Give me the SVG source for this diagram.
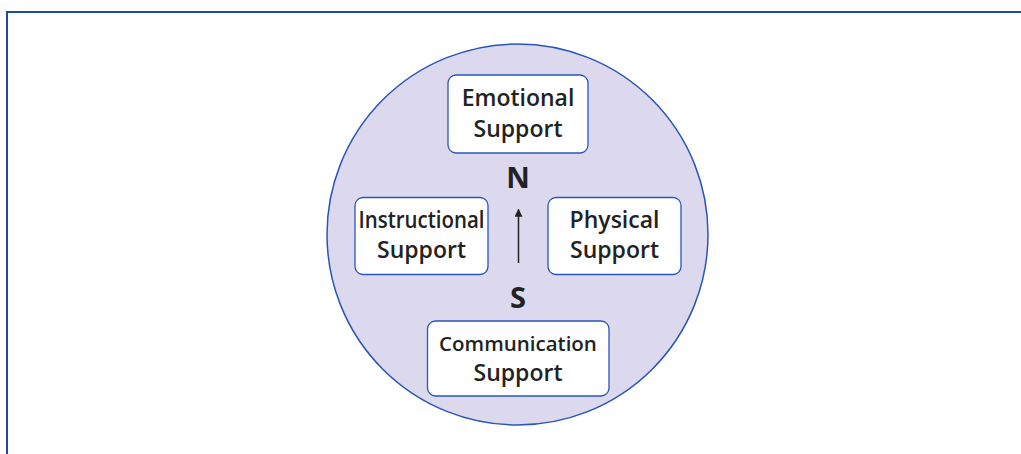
<svg xmlns="http://www.w3.org/2000/svg" width="1021" height="454" viewBox="0 0 1021 454">
<style>
.frame{fill:none;stroke:#1c4aac;stroke-width:2}
.box{fill:#ffffff;stroke:#2a55b8;stroke-width:1.3}
.lbl{font-family:"Open Sans","DejaVu Sans",sans-serif;font-weight:600;font-size:23px;fill:#222222;text-anchor:middle}
.dir{font-family:"Open Sans","DejaVu Sans",sans-serif;font-weight:700;font-size:29px;fill:#222222;text-anchor:middle}
</style>
<defs>
<marker id="ah" viewBox="0 0 10 10" refX="9" refY="5" markerWidth="8" markerHeight="8" markerUnits="userSpaceOnUse" orient="auto">
<path d="M0,0 L10,5 L0,10 z" fill="#222222"/>
</marker>
</defs>
<rect width="1021" height="454" fill="#ffffff"/>
<path class="frame" d="M7,454 L7,12 L1021,12"/>
<circle cx="517.5" cy="234.5" r="190.5" fill="#dcd8ee" stroke="#2a55b8" stroke-width="1.5"/>
<g id="emotional">
<rect class="box" x="448" y="75" width="140" height="78" rx="8"/>
<text class="lbl" x="518" y="106">Emotional</text>
<text class="lbl" x="518" y="137">Support</text>
</g>
<g id="instructional">
<rect class="box" x="355" y="197.5" width="133" height="77" rx="8"/>
<text class="lbl" x="421.5" y="228" textLength="126" lengthAdjust="spacingAndGlyphs">Instructional</text>
<text class="lbl" x="421.5" y="258">Support</text>
</g>
<g id="physical">
<rect class="box" x="548" y="197.5" width="133" height="77" rx="8"/>
<text class="lbl" x="614.5" y="228">Physical</text>
<text class="lbl" x="614.5" y="258">Support</text>
</g>
<g id="communication">
<rect class="box" x="427.5" y="321" width="181.5" height="75" rx="8"/>
<text class="lbl" x="518" y="351" style="font-size:20.5px">Communication</text>
<text class="lbl" x="518" y="381">Support</text>
</g>
<g id="compass">
<text class="dir" x="518" y="188">N</text>
<text class="dir" x="518" y="308">S</text>
</g>
<g id="connectors">
<line x1="518.5" y1="263" x2="518.5" y2="209.5" stroke="#222222" stroke-width="1.5" marker-end="url(#ah)"/>
</g>
</svg>
